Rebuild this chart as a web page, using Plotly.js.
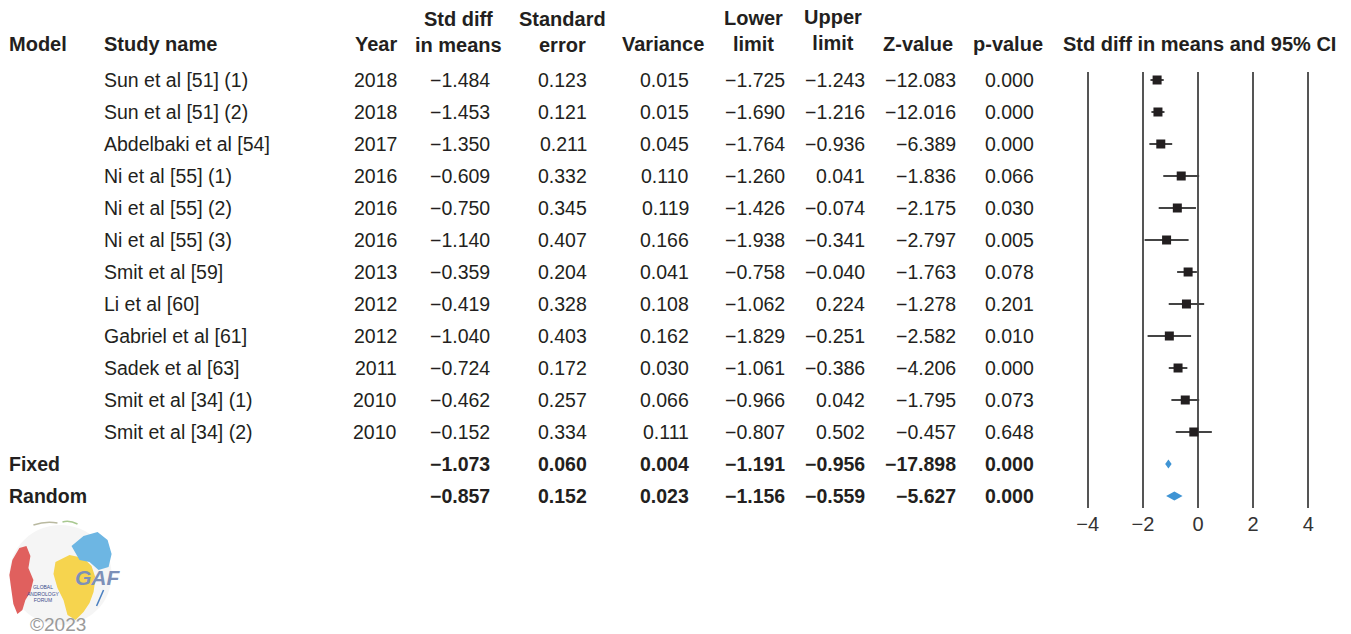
<!DOCTYPE html>
<html><head><meta charset="utf-8">
<script src="https://cdn.plot.ly/plotly-3.0.1.min.js"></script>
<style>html,body{margin:0;padding:0;background:#fff}#chart{width:1351px;height:634px}</style>
</head><body><div id="chart"></div>
<script>
const studies = ["Sun et al [51] (1)","Sun et al [51] (2)","Abdelbaki et al [54]","Ni et al [55] (1)","Ni et al [55] (2)","Ni et al [55] (3)","Smit et al [59]","Li et al [60]","Gabriel et al [61]","Sadek et al [63]","Smit et al [34] (1)","Smit et al [34] (2)"];
const years = [2018,2018,2017,2016,2016,2016,2013,2012,2012,2011,2010,2010];
const smd = [-1.484,-1.453,-1.350,-0.609,-0.750,-1.140,-0.359,-0.419,-1.040,-0.724,-0.462,-0.152];
const se = [0.123,0.121,0.211,0.332,0.345,0.407,0.204,0.328,0.403,0.172,0.257,0.334];
const variance = [0.015,0.015,0.045,0.110,0.119,0.166,0.041,0.108,0.162,0.030,0.066,0.111];
const lower = [-1.725,-1.690,-1.764,-1.260,-1.426,-1.938,-0.758,-1.062,-1.829,-1.061,-0.966,-0.807];
const upper = [-1.243,-1.216,-0.936,0.041,-0.074,-0.341,-0.040,0.224,-0.251,-0.386,0.042,0.502];
const zval = [-12.083,-12.016,-6.389,-1.836,-2.175,-2.797,-1.763,-1.278,-2.582,-4.206,-1.795,-0.457];
const pval = [0.000,0.000,0.000,0.066,0.030,0.005,0.078,0.201,0.010,0.000,0.073,0.648];

const models = ["Fixed","Random"];
const mSmd = [-1.073,-0.857];
const mSe = [0.060,0.152];
const mVar = [0.004,0.023];
const mLower = [-1.191,-1.156];
const mUpper = [-0.956,-0.559];
const mZ = [-17.898,-5.627];
const mP = [0.000,0.000];

const xTicks = [-4,-2,0,2,4];

// layout geometry (pixels)
const W = 1351, H = 634, L0 = 1088, R0 = 1308, T = 72, B = 508;
const pad = 0.1, unit = (R0 - L0) / 8;
const L = L0 - pad * unit, R = R0 + pad * unit;
const px = v => (v - L) / (R - L);
const py = v => (B - v) / (B - T);
const fmt = v => v.toFixed(3).replace('-', '\u2212');
const FONT = 'Liberation Sans, Arial, sans-serif';
const TXT = '#231f20';
const FS = 19.5;
const HFS = 20;

const n = studies.length;
const rows = studies.map((_, i) => i);
const mRows = models.map((_, i) => n + i);

const ann = [];
function cell(text, xpx, row, anchor, bold) {
  ann.push({text: bold ? '<b>' + text + '</b>' : text, xref: 'paper', yref: 'y', x: px(xpx), y: row,
    xanchor: anchor, yanchor: 'middle', showarrow: false,
    font: {family: FONT, size: FS, color: TXT}});
}
const colRight = [401, 494, 590, 692, 788, 868, 959, 1036];
for (let i = 0; i < n; i++) {
  cell(studies[i], 104, i, 'left');
  const vals = [String(years[i]), fmt(smd[i]), fmt(se[i]), fmt(variance[i]), fmt(lower[i]), fmt(upper[i]), fmt(zval[i]), fmt(pval[i])];
  vals.forEach((v, k) => cell(v, colRight[k], i, 'right'));
}
for (let j = 0; j < models.length; j++) {
  cell(models[j], 10, n + j, 'left', true);
  const vals = [fmt(mSmd[j]), fmt(mSe[j]), fmt(mVar[j]), fmt(mLower[j]), fmt(mUpper[j]), fmt(mZ[j]), fmt(mP[j])];
  vals.forEach((v, k) => cell(v, colRight[k + 1], n + j, 'right', true));
}
// headers
function head(text, xpx, ypx, anchor) {
  ann.push({text: '<b>' + text + '</b>', xref: 'paper', yref: 'paper', x: px(xpx), y: py(ypx),
    xanchor: anchor, yanchor: 'middle', showarrow: false, align: 'center',
    font: {family: FONT, size: HFS, color: TXT}});
}
head('Model', 10, 44, 'left');
head('Study name', 104, 44, 'left');
head('Year', 401, 44, 'right');
head('Std diff<br>in means', 460, 32, 'center');
head('Standard<br>error', 564, 32, 'center');
head('Variance', 664, 44, 'center');
head('Lower<br>limit', 754, 31, 'center');
head('Upper<br>limit', 834, 30, 'center');
head('Z-value', 919, 44, 'center');
head('p-value', 1008, 44, 'center');
head('Std diff in means and 95% CI', 1199, 44, 'center');

// logo (approximate)
function path(pts) {
  return 'M' + pts.map(p => px(p[0]).toFixed(4) + ',' + py(p[1]).toFixed(4)).join(' L') + ' Z';
}
const shapes = [];
shapes.push({type: 'circle', xref: 'paper', yref: 'paper', x0: px(12), x1: px(114), y0: py(525), y1: py(625),
  fillcolor: '#f5f5f5', line: {width: 0}, layer: 'below'});
shapes.push({type: 'path', xref: 'paper', yref: 'paper', fillcolor: '#e0605e', line: {width: 0},
  path: path([[22,548],[29,546],[33,556],[31,568],[36,580],[33,592],[28,600],[25,610],[20,614],[16,604],[14,590],[12,575],[15,560]])});
shapes.push({type: 'path', xref: 'paper', yref: 'paper', fillcolor: '#f6d44e', line: {width: 0},
  path: path([[58,562],[72,555],[86,558],[94,566],[98,578],[96,592],[92,603],[86,612],[78,620],[70,615],[66,600],[60,588],[56,574]])});
shapes.push({type: 'path', xref: 'paper', yref: 'paper', fillcolor: '#6db6e3', line: {width: 0},
  path: path([[74,546],[86,536],[100,532],[110,540],[114,554],[111,567],[101,570],[92,562],[82,560]])});
shapes.push({type: 'path', xref: 'paper', yref: 'paper', fillcolor: 'rgba(0,0,0,0)', line: {width: 1.5, color: '#b9b9a0'},
  path: 'M' + px(36).toFixed(4) + ',' + py(525).toFixed(4) + ' Q' + px(48).toFixed(4) + ',' + py(521).toFixed(4) + ' ' + px(60).toFixed(4) + ',' + py(523).toFixed(4)});
shapes.push({type: 'path', xref: 'paper', yref: 'paper', fillcolor: 'rgba(0,0,0,0)', line: {width: 1.5, color: '#a8c890'},
  path: 'M' + px(65).toFixed(4) + ',' + py(522).toFixed(4) + ' Q' + px(72).toFixed(4) + ',' + py(520).toFixed(4) + ' ' + px(80).toFixed(4) + ',' + py(524).toFixed(4)});
shapes.push({type: 'line', xref: 'paper', yref: 'paper', x0: px(106), y0: py(590), x1: px(99), y1: py(606), line: {width: 1.5, color: '#4a7fc0'}});
ann.push({text: '<b><i>GAF</i></b>', xref: 'paper', yref: 'paper', x: px(100), y: py(577), xanchor: 'center', yanchor: 'middle', showarrow: false,
  font: {family: FONT, size: 21, color: '#7d90b8'}});
ann.push({text: 'GLOBAL<br>ANDROLOGY<br>FORUM', xref: 'paper', yref: 'paper', x: px(46), y: py(593), xanchor: 'center', yanchor: 'middle', showarrow: false, align: 'center',
  font: {family: FONT, size: 5, color: '#3a4a8a'}});
ann.push({text: '\u00a92023', xref: 'paper', yref: 'paper', x: px(61), y: py(624), xanchor: 'center', yanchor: 'middle', showarrow: false,
  font: {family: FONT, size: 19, color: '#9a9a9a'}});

// traces
const traces = [];
traces.push({type: 'scatter', mode: 'markers', x: smd, y: rows,
  marker: {symbol: 'square', size: 9, color: TXT},
  error_x: {type: 'data', symmetric: false,
    array: upper.map((u, i) => u - smd[i]), arrayminus: lower.map((l, i) => smd[i] - l),
    color: '#444', thickness: 2, width: 0},
  hoverinfo: 'skip', showlegend: false});
const dh = 0.14;
for (let j = 0; j < models.length; j++) {
  const r = mRows[j];
  traces.push({type: 'scatter', mode: 'lines', fill: 'toself', fillcolor: '#3f94d4',
    x: [mLower[j], mSmd[j], mUpper[j], mSmd[j], mLower[j]],
    y: [r, r - dh, r, r + dh, r],
    line: {width: 0, color: '#3f94d4'}, hoverinfo: 'skip', showlegend: false});
}

const layout = {
  width: W, height: H,
  margin: {l: L, r: W - R, t: T, b: H - B, pad: 0},
  paper_bgcolor: '#fff', plot_bgcolor: '#fff',
  showlegend: false,
  font: {family: FONT, size: FS, color: TXT},
  xaxis: {range: [-4 - pad, 4 + pad], tickvals: xTicks, ticktext: xTicks.map(t => t < 0 ? '\u2212' + Math.abs(t) : String(t)),
    showgrid: true, gridcolor: '#555', gridwidth: 2.5, zeroline: true, zerolinecolor: '#555', zerolinewidth: 2.5,
    showline: false, ticks: '', ticklabelstandoff: 2,
    tickfont: {family: FONT, size: 20, color: '#333'}, fixedrange: true},
  yaxis: {range: [n + models.length - 1 + 0.375, -0.25], showgrid: false, zeroline: false, showticklabels: false,
    showline: false, ticks: '', fixedrange: true},
  annotations: ann,
  shapes: shapes
};
Plotly.newPlot('chart', traces, layout, {staticPlot: true, displayModeBar: false});
</script></body></html>
